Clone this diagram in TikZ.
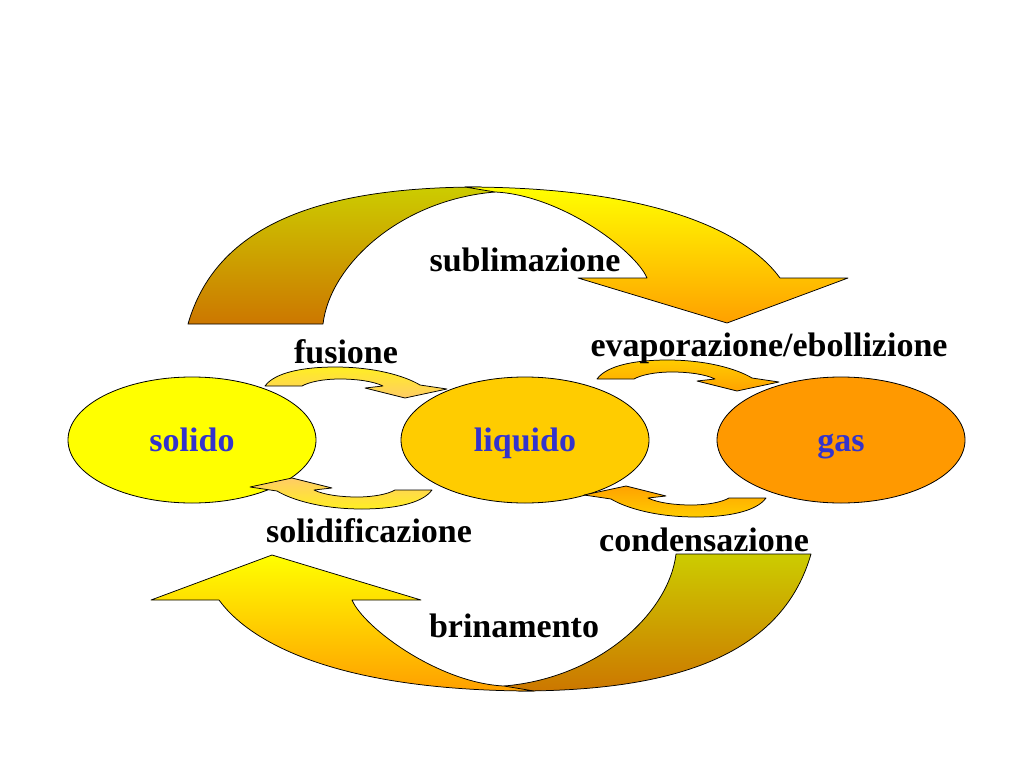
\documentclass[tikz,border=0pt]{standalone}
\usepackage{fontspec}
\setmainfont{Liberation Serif}
\usetikzlibrary{shapes.geometric}

\definecolor{giallo}{HTML}{FFFF00}
\definecolor{ambra}{HTML}{FFCC00}
\definecolor{arancio}{HTML}{FF9900}
\definecolor{arancioB}{HTML}{FFA000}
\definecolor{oliva}{HTML}{CCCC00}
\definecolor{bruno}{HTML}{CC7700}
\definecolor{blu}{HTML}{3333CC}
\definecolor{fusA}{HTML}{FFEE22}
\definecolor{fusB}{HTML}{FFCC66}
\definecolor{evaA}{HTML}{FFCC00}
\definecolor{evaB}{HTML}{FFA200}

\begin{document}
\begin{tikzpicture}[x=1pt, y=-1pt,
  stato/.style={ellipse, draw=black, line width=0.8pt, minimum width=248pt,
    minimum height=126pt, inner sep=0pt, text=blu,
    font=\fontsize{34}{40}\selectfont\bfseries},
  etichetta/.style={anchor=base, inner sep=0pt,
    font=\fontsize{34}{40}\selectfont\bfseries},
  freccia/.style={draw=black, line width=0.75pt, line join=round}]
  \useasboundingbox[fill=white] (0,0) rectangle (1024,768);

  % frecce grandi: sublimazione e brinamento
  \foreach \ang in {0,180}{
    \begin{scope}[rotate around={\ang:(499.5,439)}]
      \draw[freccia, top color=oliva, bottom color=bruno]
        (188,324) .. controls (215,230) and (310,187) .. (480,187) -- (495,192)
        .. controls (400,200) and (330,265) .. (323,324) -- cycle;
      \draw[freccia, top color=giallo, bottom color=arancioB]
        (465,187) .. controls (650,187) and (745,230) .. (780,278)
        -- (848,278) -- (727,323) -- (578,278) -- (647,278)
        .. controls (635,250) and (560,195) .. (495,192) -- cycle;
    \end{scope}
  }

  % stati
  \node[stato, fill=giallo] (solido) at (192,440) {};
  \node[stato, fill=ambra] (liquido) at (525,440) {};
  \node[stato, fill=arancio] (gas) at (841,440) {};
  \node[etichetta, text=blu] (tsolido) at (192,451) {solido};
  \node[etichetta, text=blu] (tliquido) at (525,451) {liquido};
  \node[etichetta, text=blu] (tgas) at (841,451) {gas};

  % frecce piccole tra gli stati
  \foreach \px/\py/\ang/\csu/\cgiu in {265/386/0/fusA/fusB, 597/379/0/evaA/evaB,
      432/490/180/fusB/fusA, 766/498/180/evaB/evaA}{
    \draw[freccia, top color=\csu, bottom color=\cgiu, shift={(\px,\py)}, rotate=\ang]
      (0,0) .. controls (10,-14) and (40,-19) .. (70,-19)
      .. controls (110,-19) and (140,-10) .. (155,-1)
      -- (182,3) -- (140,12) -- (100,2) -- (118,0)
      .. controls (108,-5) and (90,-7) .. (75,-7)
      .. controls (58,-7) and (44,-4) .. (37,0) -- cycle;
  }

  % nomi dei passaggi
  \node[etichetta] (subl) at (525,271) {sublimazione};
  \node[etichetta] (fus) at (346,363) {fusione};
  \node[etichetta] (evap) at (769,356) {evaporazione/ebollizione};
  \node[etichetta] (solid) at (369,542) {solidificazione};
  \node[etichetta] (cond) at (704,551) {condensazione};
  \node[etichetta] (brin) at (514,637) {brinamento};
\end{tikzpicture}
\end{document}
